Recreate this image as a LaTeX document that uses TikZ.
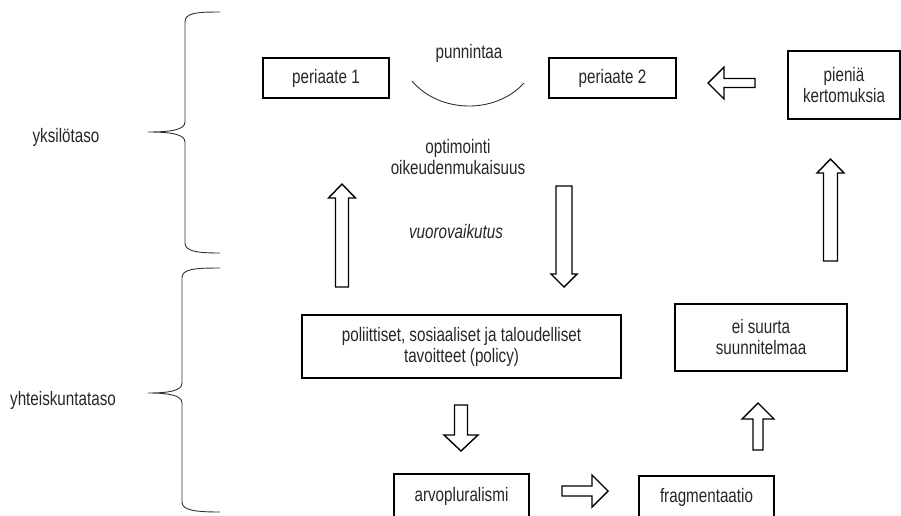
\documentclass[tikz,border=0pt]{standalone}
\usepackage{fontspec}
\setmainfont[FakeStretch=0.78]{Liberation Sans}
\begin{document}
\begin{tikzpicture}[x=1pt,y=-1pt,
  txt/.style={font=\fontsize{19.5}{21}\selectfont, text=black!85, inner sep=0pt, align=center},
  box/.style={txt, draw=black, line width=1.8pt},
  blk/.style={draw=black, line width=1.4pt, fill=white, line join=miter},
  brace/.style={draw=black!80, line width=0.9pt}]
\useasboundingbox (0,0) rectangle (901,515);
% boxes
\node[box, minimum width=126, minimum height=40] (p1) at (326,78) {periaate 1};
\node[box, minimum width=127, minimum height=40] (p2) at (612.5,78) {periaate 2};
\node[box, minimum width=112, minimum height=68] (pk) at (844,85) {pieniä\\kertomuksia};
\node[box, minimum width=319, minimum height=63] (pol) at (461.5,346.5) {poliittiset, sosiaaliset ja taloudelliset\\tavoitteet (policy)};
\node[box, minimum width=172, minimum height=67] (ei) at (761,337.5) {ei suurta\\suunnitelmaa};
\node[box, minimum width=135, minimum height=44] (arv) at (461.5,496) {arvopluralismi};
\node[box, minimum width=135, minimum height=42] (fr) at (706.5,497) {fragmentaatio};
% free texts
\node[txt] (pun) at (469,53) {punnintaa};
\node[txt] (opt) at (458,157.5) {optimointi\\oikeudenmukaisuus};
\node[txt, font=\fontsize{19.5}{21}\selectfont\itshape] (vuo) at (456,232) {vuorovaikutus};
\node[txt] (yk) at (66,137) {yksilötaso};
\node[txt] (yh) at (63,400) {yhteiskuntataso};
% arc
\draw[black!80, line width=0.9pt] (412,81) .. controls (440,114) and (496,114) .. (524,83);
% braces
\draw[brace] (220,12) .. controls (196,12) and (185,13) .. (185,22) -- (185,122)
  .. controls (185,130) and (170,132) .. (148,132)
  .. controls (170,132) and (185,134) .. (185,142) -- (185,243)
  .. controls (185,251) and (196,253) .. (220,253);
\draw[brace] (220,268) .. controls (194,268) and (182,269) .. (182,278) -- (182,383)
  .. controls (182,391) and (168,393) .. (148,393)
  .. controls (168,393) and (182,395) .. (182,403) -- (182,502)
  .. controls (182,510) and (194,512) .. (220,512);
% block arrows
% up left
\draw[blk] (335.5,287) -- (335.5,198) -- (328.5,198) -- (342,184) -- (355.5,198) -- (348.5,198) -- (348.5,287) -- cycle;
% down middle
\draw[blk] (556,186) -- (556,274) -- (551,274) -- (564,287) -- (577,274) -- (572,274) -- (572,186) -- cycle;
% down small
\draw[blk] (454.5,405) -- (454.5,435) -- (444,435) -- (461,451) -- (478,435) -- (467.5,435) -- (467.5,405) -- cycle;
% right
\draw[blk] (562,486) -- (592,486) -- (592,475) -- (608,491) -- (592,507) -- (592,496) -- (562,496) -- cycle;
% up small
\draw[blk] (753,450) -- (753,419) -- (742,419) -- (758,403) -- (774,419) -- (763,419) -- (763,450) -- cycle;
% up right
\draw[blk] (823.5,261) -- (823.5,173) -- (817,173) -- (830.5,159) -- (844,173) -- (837.5,173) -- (837.5,261) -- cycle;
% left
\draw[blk] (755,78.5) -- (724,78.5) -- (724,67) -- (708,83) -- (724,99) -- (724,87.5) -- (755,87.5) -- cycle;
\end{tikzpicture}
\end{document}
